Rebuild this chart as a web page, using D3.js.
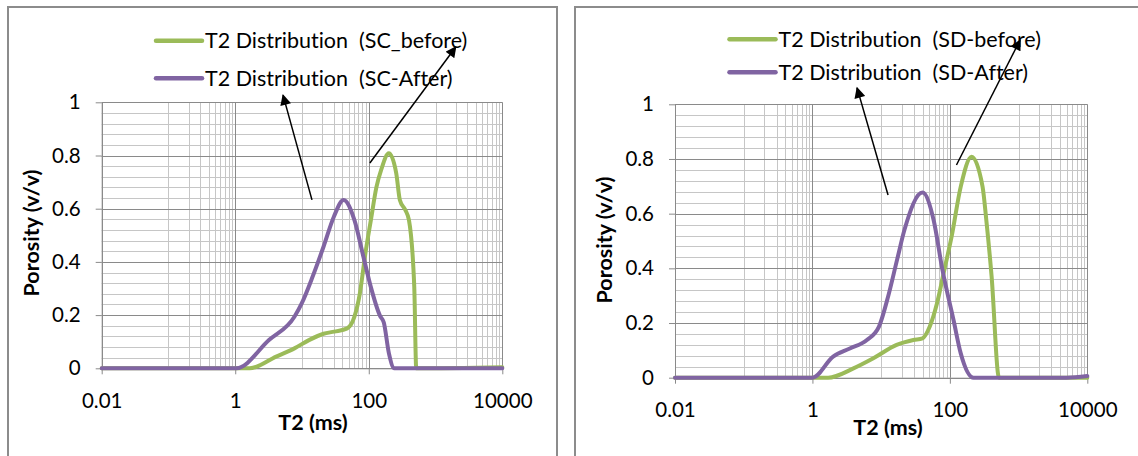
<!DOCTYPE html>
<html>
<head>
<meta charset="utf-8">
<script src="https://cdn.jsdelivr.net/npm/d3@7"></script>
<style>
  body { margin: 0; background: #fff; }
  text { font-family: Lato, "Open Sans", sans-serif; fill: #000; font-variant-ligatures: none; font-feature-settings: "liga" 0, "clig" 0; }
</style>
</head>
<body>
<script>

// axis ticks (log axis, base 100 style like excel)
var xTickValues = [0.01, 1, 100, 10000];
var yTickValues = [0, 0.2, 0.4, 0.6, 0.8, 1];

// SC sample
var scBeforeT2  = [0.01, 1.0, 1.65, 4.1, 7.7, 12.7, 21, 30.5, 47.5, 61, 73.6, 89, 108, 130, 155, 200, 258, 292, 353, 400, 480, 514, 10000];
var scBeforePor = [0, 0, 0, 0.044, 0.075, 0.106, 0.13, 0.138, 0.15, 0.194, 0.282, 0.432, 0.56, 0.68, 0.75, 0.808, 0.733, 0.633, 0.595, 0.557, 0.307, 0, 0.004];
var scAfterT2   = [0.01, 1.04, 3.2, 7.7, 9.9, 14.4, 21, 30, 42, 61, 83, 107, 147, 168, 200, 242, 10000];
var scAfterPor  = [0, 0, 0.106, 0.194, 0.244, 0.344, 0.457, 0.57, 0.633, 0.557, 0.42, 0.307, 0.198, 0.172, 0.057, 0, 0];

// SD sample
var sdBeforeT2  = [0.01, 1.04, 1.69, 3.95, 7.7, 16.8, 29.4, 40, 51, 65, 83, 106, 144, 207, 299, 339, 405, 519, 10000];
var sdBeforePor = [0, 0, 0, 0.034, 0.071, 0.12, 0.138, 0.144, 0.187, 0.272, 0.394, 0.516, 0.699, 0.808, 0.699, 0.577, 0.37, 0, 0];
var sdAfterT2   = [0.01, 1.0, 2.0, 3.5, 6.2, 9.3, 12.6, 17, 21.8, 40, 58, 78, 113, 144, 221, 5000, 10000];
var sdAfterPor  = [0, 0, 0.077, 0.107, 0.138, 0.187, 0.296, 0.43, 0.54, 0.677, 0.577, 0.394, 0.211, 0.089, 0, 0, 0.006];

// arrow annotations, [T2, porosity] from tail to head
var scArrows = [[[14.1, 0.633], [5.2, 1.027]], [[103.8, 0.772], [2010, 1.208]]];
var sdArrows = [[[12.6, 0.668], [4.46, 1.06]], [[124.7, 0.778], [1052, 1.235]]];

var greenColor = "#9bbb59";
var purpleColor = "#8064a2";

var svg = d3.select("body").append("svg")
  .attr("width", 1138)
  .attr("height", 456);

svg.append("defs").append("marker")
  .attr("id", "head")
  .attr("viewBox", "0 0 10 10")
  .attr("refX", 9)
  .attr("refY", 5)
  .attr("markerWidth", 12)
  .attr("markerHeight", 11)
  .attr("markerUnits", "userSpaceOnUse")
  .attr("orient", "auto")
  .append("path")
  .attr("d", "M0,0 L10,5 L0,10 Z")
  .attr("fill", "#000");

// minor vertical grid: 0.1..0.9, 10..90, 1000..9000
var minorX = [];
[0.1, 10, 1000].forEach(function(b) {
  for (var k = 1; k <= 9; k++) minorX.push(b * k);
});
var minorY = d3.range(0, 25).map(function(i) { return i * 0.04; }).concat([1]);

var zip = function(a, b) {
  return a.map(function(v, i) { return [v, b[i]]; });
};

var drawChart = function(cfg) {
  var g = svg.append("g");

  g.append("rect")
    .attr("x", cfg.frame[0])
    .attr("y", cfg.frame[1])
    .attr("width", cfg.frame[2])
    .attr("height", 480)
    .attr("fill", "#fff")
    .attr("stroke", "#8c8c8c")
    .attr("stroke-width", 2);

  var x = d3.scaleLog().domain([0.01, 10000]).range([cfg.left, cfg.right]);
  var y = d3.scaleLinear().domain([0, 1]).range([cfg.bottom, cfg.top]);

  // grid
  g.selectAll(".hmin").data(minorY).enter().append("line")
    .attr("x1", cfg.left).attr("x2", cfg.right)
    .attr("y1", function(d) { return Math.round(y(d)) + 0.5; })
    .attr("y2", function(d) { return Math.round(y(d)) + 0.5; })
    .attr("stroke", "#c6c6c6");
  g.selectAll(".vmin").data(minorX).enter().append("line")
    .attr("y1", cfg.top).attr("y2", cfg.bottom)
    .attr("x1", function(d) { return Math.round(x(d)) + 0.5; })
    .attr("x2", function(d) { return Math.round(x(d)) + 0.5; })
    .attr("stroke", "#c6c6c6");
  g.selectAll(".hmaj").data(yTickValues).enter().append("line")
    .attr("x1", cfg.left).attr("x2", cfg.right)
    .attr("y1", function(d) { return Math.round(y(d)) + 0.5; })
    .attr("y2", function(d) { return Math.round(y(d)) + 0.5; })
    .attr("stroke", "#8a8a8a");
  g.selectAll(".vmaj").data(xTickValues).enter().append("line")
    .attr("y1", cfg.top).attr("y2", cfg.bottom)
    .attr("x1", function(d) { return Math.round(x(d)) + 0.5; })
    .attr("x2", function(d) { return Math.round(x(d)) + 0.5; })
    .attr("stroke", "#8a8a8a");

  // axes
  var yAxis = g.append("g")
    .attr("transform", "translate(" + cfg.left + ",0)")
    .call(d3.axisLeft(y).tickValues(yTickValues).tickSize(6).tickSizeOuter(0).tickPadding(15)
      .tickFormat(function(d) { return String(d); }));
  var xAxis = g.append("g")
    .attr("transform", "translate(0," + cfg.bottom + ")")
    .call(d3.axisBottom(x).tickValues(xTickValues).tickSize(6).tickSizeOuter(0).tickPadding(19)
      .tickFormat(function(d) { return String(d); }));
  [xAxis, yAxis].forEach(function(a) {
    a.selectAll("path, line").attr("stroke", "#8a8a8a");
    a.selectAll("text").attr("font-size", 20.5).attr("font-family", "Lato, sans-serif").attr("fill", "#000");
  });

  // series, green below purple
  var line = d3.line()
    .x(function(d) { return x(d[0]); })
    .y(function(d) { return y(d[1]); })
    .curve(d3.curveMonotoneX);
  cfg.series.forEach(function(s) {
    g.append("path")
      .datum(s.points)
      .attr("d", line)
      .attr("fill", "none")
      .attr("stroke", s.color)
      .attr("stroke-width", 4)
      .attr("stroke-linejoin", "round")
      .attr("stroke-linecap", "round");
  });

  // axis titles
  g.append("text")
    .attr("x", cfg.xTitle[0]).attr("y", cfg.xTitle[1])
    .attr("text-anchor", "middle")
    .attr("font-size", 21.5).attr("font-weight", "bold")
    .text("T2 (ms)");
  g.append("text")
    .attr("transform", "translate(" + cfg.yTitle[0] + "," + cfg.yTitle[1] + ") rotate(-90)")
    .attr("text-anchor", "middle")
    .attr("dy", "0.35em")
    .attr("font-size", 21.5).attr("font-weight", "bold")
    .text("Porosity (v/v)");

  // legend: green first, then purple
  cfg.series.forEach(function(s, i) {
    var ly = cfg.legend[1] + i * cfg.legend[2];
    g.append("line")
      .attr("x1", cfg.legend[0]).attr("x2", cfg.legend[0] + 46)
      .attr("y1", ly).attr("y2", ly)
      .attr("stroke", s.color).attr("stroke-width", 4.5)
      .attr("stroke-linecap", "round");
    g.append("text")
      .attr("x", cfg.legend[0] + 49).attr("y", ly)
      .attr("dy", "0.35em")
      .attr("font-size", 21.5)
      .style("white-space", "pre")
      .text(s.name);
  });

  // arrows
  cfg.arrows.forEach(function(a) {
    g.append("line")
      .attr("x1", x(a[0][0])).attr("y1", y(a[0][1]))
      .attr("x2", x(a[1][0])).attr("y2", y(a[1][1]))
      .attr("stroke", "#000").attr("stroke-width", 1.5)
      .attr("marker-end", "url(#head)");
  });
};

drawChart({
  frame: [8, 7, 549],
  left: 101.7, right: 502.3, top: 102.3, bottom: 368.3,
  xTitle: [313, 430], yTitle: [31.7, 233],
  legend: [156, 40.7, 37.6],
  arrows: scArrows,
  series: [
    { name: "T2 Distribution  (SC_before)", color: greenColor, points: zip(scBeforeT2, scBeforePor) },
    { name: "T2 Distribution  (SC-After)", color: purpleColor, points: zip(scAfterT2, scAfterPor) }
  ]
});

drawChart({
  frame: [575, 7, 600],
  left: 675, right: 1087.3, top: 104.3, bottom: 377.7,
  xTitle: [888, 435], yTitle: [604, 240],
  legend: [729.5, 39.3, 33],
  arrows: sdArrows,
  series: [
    { name: "T2 Distribution  (SD-before)", color: greenColor, points: zip(sdBeforeT2, sdBeforePor) },
    { name: "T2 Distribution  (SD-After)", color: purpleColor, points: zip(sdAfterT2, sdAfterPor) }
  ]
});

</script>
</body>
</html>
